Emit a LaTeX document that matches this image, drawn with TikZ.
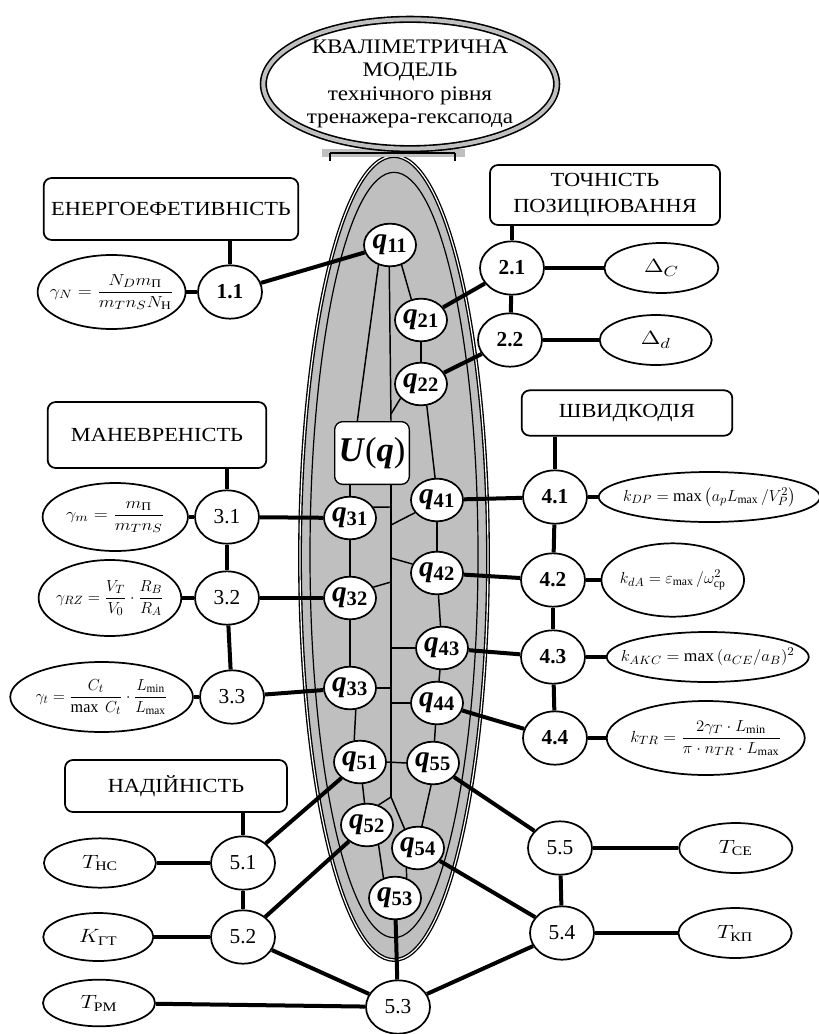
\documentclass[tikz,border=0pt]{standalone}
\usepackage{amsmath}
\usepackage{fontspec}
\setmainfont{Liberation Serif}
\newfontfamily\widefont[FakeStretch=1.12]{Liberation Serif}
\usetikzlibrary{shapes.geometric, positioning, calc}

\newcommand{\qlab}[1]{\textbf{\textit{q}}\textsubscript{\textbf{#1}}}
\newcommand{\fml}[2][1.1]{\makebox[0pt]{\scalebox{#1}[1]{$#2$}}}

\begin{document}
\begin{tikzpicture}[
    x=0.75pt, y=-0.75pt,
    qnode/.style={ellipse, draw, line width=1.3pt, fill=white, minimum width=39pt, minimum height=32pt, inner sep=0pt, font=\fontsize{22}{22}\selectfont},
    numnode/.style={ellipse, draw, line width=1.3pt, fill=white, minimum width=48pt, minimum height=40pt, inner sep=0pt, font=\fontsize{16}{16}\selectfont},
    formula/.style={ellipse, draw, line width=1.3pt, fill=white, inner sep=0pt, font=\fontsize{12.5}{14}\selectfont},
    group/.style={rectangle, draw, rounded corners=6pt, line width=1.3pt, fill=white, align=center, inner sep=0pt, font=\widefont\fontsize{15}{19}\selectfont},
    link/.style={line width=3pt},
    slim/.style={line width=1.1pt}
]
\useasboundingbox (0,0) rectangle (818,1034);

% Центральна модель
\filldraw[fill=black!25, draw=black, line width=1pt, double=white, double distance=0.9pt] (394,558) ellipse [x radius=70.5pt, y radius=301.5pt];
\draw[line width=0.9pt] (394,555) ellipse [x radius=63pt, y radius=287pt];

% Заголовок
\fill[black!25] (322,149) rectangle (465,157);
\draw[line width=1.5pt] (330,153) -- (455,153) (330,153) -- (330,161) (455,153) -- (455,161);
\node[ellipse, draw, line width=1.2pt, double=black!25, double distance=3pt, fill=white, minimum width=220pt, minimum height=97pt, inner sep=-12pt, align=center, font=\widefont\fontsize{15.5}{17.5}\selectfont] (title) at (410,84) {КВАЛІМЕТРИЧНА\\МОДЕЛЬ\\технічного рівня\\тренажера-гексапода};

% Показники q
\node[qnode] (q11) at (390,245) {\qlab{11}};
\node[qnode] (q21) at (421,320) {\qlab{21}};
\node[qnode] (q22) at (421,384) {\qlab{22}};
\node[rectangle, draw, rounded corners=6pt, line width=1pt, fill=white, minimum width=56pt, minimum height=47pt, inner sep=0pt, font=\fontsize{26}{26}\selectfont] (uq) at (372,453) {\textit{\textbf{U}}(\textit{\textbf{q}})};
\node[qnode] (q31) at (350,518) {\qlab{31}};
\node[qnode] (q32) at (350,598) {\qlab{32}};
\node[qnode] (q33) at (350,688) {\qlab{33}};
\node[qnode] (q41) at (437,500) {\qlab{41}};
\node[qnode] (q42) at (437,573) {\qlab{42}};
\node[qnode] (q43) at (442,648) {\qlab{43}};
\node[qnode] (q44) at (437,703) {\qlab{44}};
\node[qnode] (q51) at (360,762) {\qlab{51}};
\node[qnode] (q52) at (367,825) {\qlab{52}};
\node[qnode] (q53) at (395,898) {\qlab{53}};
\node[qnode] (q54) at (418,848) {\qlab{54}};
\node[qnode] (q55) at (433,763) {\qlab{55}};

% Групи показників
\node[group, minimum width=191pt, minimum height=46.5pt] (g1) at (171,209) {ЕНЕРГОЕФЕТИВНІСТЬ};
\node[group, minimum width=172.5pt, minimum height=45pt] (g2) at (605,195) {ТОЧНІСТЬ\\ПОЗИЦІЮВАННЯ};
\node[group, minimum width=164pt, minimum height=49.5pt] (g3) at (157,435) {МАНЕВРЕНІСТЬ};
\node[group, minimum width=158pt, minimum height=34pt] (g4) at (627,413) {ШВИДКОДІЯ};
\node[group, minimum width=166.5pt, minimum height=39pt] (g5) at (176,786) {НАДІЙНІСТЬ};

% Одиничні показники
\node[numnode] (n11) at (230,292) {\textbf{1.1}};
\node[numnode] (n21) at (512,268) {\textbf{2.1}};
\node[numnode] (n22) at (510,340) {\textbf{2.2}};
\node[numnode] (n31) at (227,517) {3.1};
\node[numnode] (n32) at (227,598) {3.2};
\node[numnode] (n33) at (232,697) {3.3};
\node[numnode] (n41) at (555,497) {\textbf{4.1}};
\node[numnode] (n42) at (553,580) {\textbf{4.2}};
\node[numnode] (n43) at (553,657) {\textbf{4.3}};
\node[numnode] (n44) at (555,738) {\textbf{4.4}};
\node[numnode] (n51) at (243,863) {5.1};
\node[numnode] (n52) at (243,937) {5.2};
\node[numnode] (n53) at (398,1007) {5.3};
\node[numnode] (n54) at (562,933) {5.4};
\node[numnode] (n55) at (560,848) {5.5};

% Формули
\node[formula, minimum width=111pt, minimum height=55.5pt, left=8pt of n11] (f11) {\fml[1.15]{\gamma_N=\dfrac{N_D m_{\text{П}}}{m_T n_S N_{\text{Н}}}}};
\node[formula, font=\fontsize{15}{17}\selectfont, minimum width=85.5pt, minimum height=37.5pt, right=44pt of n21] (d21) {\fml[1.25]{\Delta_C}};
\node[formula, font=\fontsize{15}{17}\selectfont, minimum width=84pt, minimum height=37.5pt, right=42pt of n22] (d22) {\fml[1.25]{\Delta_d}};
\node[formula, minimum width=109pt, minimum height=51pt, left=4pt of n31] (f31) {\fml[1.15]{\gamma_m=\dfrac{m_{\text{П}}}{m_T n_S}}};
\node[formula, minimum width=107pt, minimum height=57pt, left=9pt of n32] (f32) {\fml[1.0]{\gamma_{RZ}=\dfrac{V_T}{V_0}\cdot\dfrac{R_B}{R_A}}};
\node[formula, minimum width=137pt, minimum height=52.5pt, left=4pt of n33] (f33) {\fml[0.97]{\gamma_t=\dfrac{C_t}{\max\ C_t}\cdot\dfrac{L_{\min}}{L_{\max}}}};
\node[formula, minimum width=166pt, minimum height=37.5pt, right=7.5pt of n41] (f41) {\fml[1.0]{k_{DP}=\max\left(a_p L_{\max}\,/V_P^2\right)}};
\node[formula, minimum width=107pt, minimum height=55pt, right=11pt of n42] (f42) {\fml[1.0]{k_{dA}=\varepsilon_{\max}\,/\omega^2_{\text{ср}}}};
\node[formula, minimum width=151.5pt, minimum height=37.5pt, right=15pt of n43] (f43) {\fml[1.05]{k_{AKC}=\max\,(a_{CE}/a_B)^2}};
\node[formula, minimum width=148.5pt, minimum height=55.5pt, right=13.5pt of n44] (f44) {\fml[1.05]{k_{TR}=\dfrac{2\gamma_T\cdot L_{\min}}{\pi\cdot n_{TR}\cdot L_{\max}}}};
\node[formula, font=\fontsize{14}{16}\selectfont, minimum width=84pt, minimum height=37pt, left=40pt of n51] (t51) {\fml[1.2]{T_{\text{НС}}}};
\node[formula, font=\fontsize{14}{16}\selectfont, minimum width=82.5pt, minimum height=36pt, left=42pt of n52] (t52) {\fml[1.2]{K_{\text{ГТ}}}};
\node[formula, font=\fontsize{14}{16}\selectfont, minimum width=84pt, minimum height=35pt] (t53) at (99,1003) {\fml[1.2]{T_{\text{РМ}}}};
\node[formula, font=\fontsize{14}{16}\selectfont, minimum width=85pt, minimum height=37.5pt, right=64pt of n55] (t55) {\fml[1.2]{T_{\text{СЕ}}}};
\node[formula, font=\fontsize{14}{16}\selectfont, minimum width=85pt, minimum height=37.5pt, right=62pt of n54] (t54) {\fml[1.2]{T_{\text{КП}}}};

% Вузли зв'язків у моделі
\coordinate (sp22) at (391,414);
\coordinate (sp31) at (391,507);
\coordinate (sp41) at (391,525);
\coordinate (sp42) at (391,558);
\coordinate (sp32) at (391,582);
\coordinate (sp43) at (391,648);
\coordinate (sp33) at (391,688);
\coordinate (sp44) at (391,703);
\coordinate (spb) at (391,797);

% Зв'язки всередині моделі
\draw[slim] (q11.240) -- ([xshift=-11pt]uq.north);
\draw[slim] (q11.268) -- ([xshift=14.25pt]uq.north);
\draw[slim] ([xshift=14.25pt]uq.south) -- (spb);
\draw[slim] (q22.215) -- (sp22);
\draw[slim] (q31.25) -- (sp31);
\draw[slim] (q41.210) -- (sp41);
\draw[slim] (q42.160) -- (sp42);
\draw[slim] (q32.25) -- (sp32);
\draw[slim] (q43.west) -- (sp43);
\draw[slim] (q33.east) -- (sp33);
\draw[slim] (q44.west) -- (sp44);
\draw[slim] (q51.east) -- (q55.west);
\draw[slim] (spb) -- (q52.60);
\draw[slim] (spb) -- (q54.125);
\draw[slim] (q11.300) -- (q21.115);
\draw[slim] (q21) -- (q22);
\draw[slim] (q22.285) -- (q41.95);
\draw[slim] (q41) -- (q42);
\draw[slim] (q42) -- (q43);
\draw[slim] (q43) -- (q44);
\draw[slim] (q44) -- (q55);
\draw[slim] (q55.265) -- (q54.80);
\draw[slim] (q31.north) -- (q31.north |- uq.south);
\draw[slim] (q31) -- (q32);
\draw[slim] (q32) -- (q33);
\draw[slim] (q33.285) -- (q51.105);
\draw[slim] (q51) -- (q52);
\draw[slim] (q52.300) -- (q53.120);
\draw[slim] (q54.240) -- (q53.60);

% Зв'язки груп
\draw[link] (n11.north) -- (n11.north |- g1.south);
\draw[link] (f11) -- (n11);
\draw[link] (n11) -- (q11);

\draw[link] (n21.north) -- (n21.north |- g2.south);
\draw[link] (n21) -- (n22);
\draw[link] (n21) -- (d21);
\draw[link] (n22) -- (d22);
\draw[link] (n21) -- (q21);
\draw[link] (n22) -- (q22);

\draw[link] (n31.north) -- (n31.north |- g3.south);
\draw[link] (n31) -- (n32);
\draw[link] (n32) -- (n33);
\draw[link] (f31) -- (n31);
\draw[link] (f32) -- (n32);
\draw[link] (f33) -- (n33);
\draw[link] (n31) -- (q31);
\draw[link] (n32) -- (q32);
\draw[link] (n33) -- (q33);

\draw[link] (n41.north) -- (n41.north |- g4.south);
\draw[link] (n41) -- (n42);
\draw[link] (n42) -- (n43);
\draw[link] (n43) -- (n44);
\draw[link] (n41) -- (f41);
\draw[link] (n42) -- (f42);
\draw[link] (n43) -- (f43);
\draw[link] (n44) -- (f44);
\draw[link] (q41) -- (n41);
\draw[link] (q42) -- (n42);
\draw[link] (q43) -- (n43);
\draw[link] (q44) -- (n44);

\draw[link] (n51.north) -- (n51.north |- g5.south);
\draw[link] (n51) -- (n52);
\draw[link] (t51) -- (n51);
\draw[link] (t52) -- (n52);
\draw[link] (t53) -- (n53);
\draw[link] (n51) -- (q51);
\draw[link] (n52) -- (q52);
\draw[link] (n52) -- (n53);
\draw[link] (q53) -- (n53);
\draw[link] (q55) -- (n55);
\draw[link] (n55) -- (n54);
\draw[link] (n55) -- (t55);
\draw[link] (n54) -- (t54);
\draw[link] (q54) -- (n54);
\draw[link] (n54) -- (n53);

\end{tikzpicture}
\end{document}
